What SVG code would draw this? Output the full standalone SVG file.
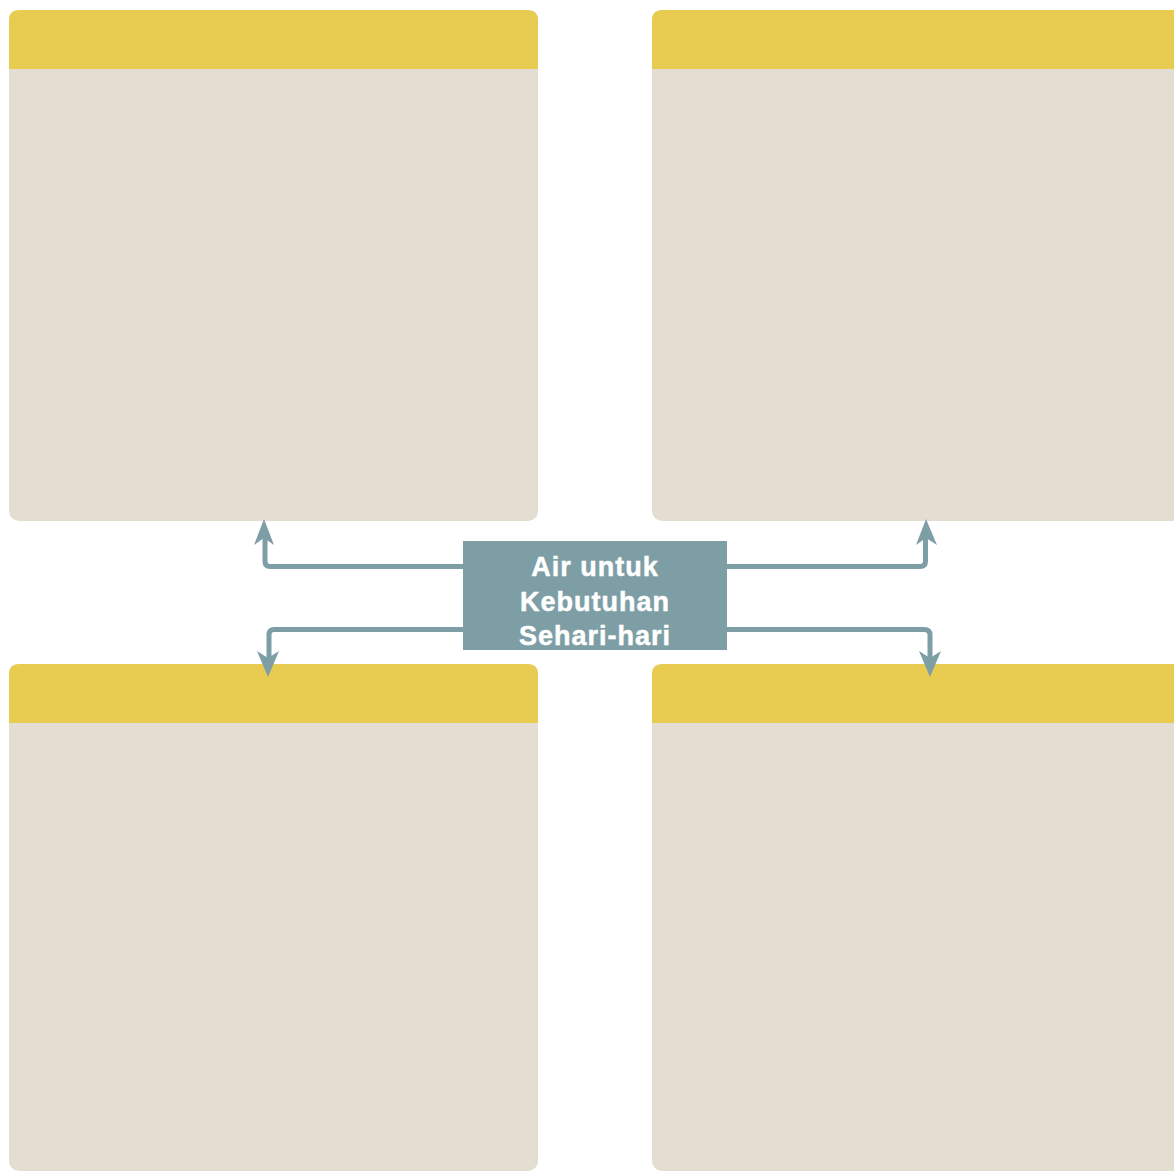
<svg xmlns="http://www.w3.org/2000/svg" width="1174" height="1171" viewBox="0 0 1174 1171">
<defs>
<style>
.body{fill:#E3DDD2}
.head{fill:#E8CC52}
.conn{fill:none;stroke:#7E9EA6;stroke-width:5;stroke-linejoin:round;stroke-linecap:butt}
.tip{fill:#7E9EA6}
.lbl{font-family:"Liberation Sans",Arial,Helvetica,sans-serif;font-weight:bold;font-size:27px;letter-spacing:1px;fill:#FFFFFF;stroke:#FFFFFF;stroke-width:0.5;text-anchor:middle}
</style>
</defs>
<rect width="1174" height="1171" fill="#FFFFFF"/>
<g id="box-tl">
<rect class="body" x="9" y="10" width="529" height="511" rx="10"/>
<path class="head" d="M9,69 V20 Q9,10 19,10 H528 Q538,10 538,20 V69 Z"/>
</g>
<g id="box-tr">
<rect class="body" x="652" y="10" width="532" height="511" rx="10"/>
<path class="head" d="M652,69 V20 Q652,10 662,10 H1174 Q1184,10 1184,20 V69 Z"/>
</g>
<g id="box-bl">
<rect class="body" x="9" y="664" width="529" height="507" rx="10"/>
<path class="head" d="M9,723 V674 Q9,664 19,664 H528 Q538,664 538,674 V723 Z"/>
</g>
<g id="box-br">
<rect class="body" x="652" y="664" width="532" height="507" rx="10"/>
<path class="head" d="M652,723 V674 Q652,664 662,664 H1174 Q1184,664 1184,674 V723 Z"/>
</g>
<g id="connectors">
<path class="conn" d="M463,566.5 H270 Q265,566.5 265,561 V536"/>
<polygon class="tip" points="264,519 274,545 264,538 254,545"/>
<path class="conn" d="M727,566.5 H920 Q925.5,566.5 925.5,561 V536"/>
<polygon class="tip" points="926,519 937,545 926,538 916,545"/>
<path class="conn" d="M463,629.5 H274 Q269,629.5 269,635 V660"/>
<polygon class="tip" points="268,677 279,651 268,658 257,651"/>
<path class="conn" d="M727,629.5 H924 Q930,629.5 930,635 V660"/>
<polygon class="tip" points="930,677 941,651 930,658 919,651"/>
</g>
<g id="center">
<rect x="463" y="541" width="264" height="109" fill="#7E9EA6"/>
<text class="lbl" x="595" y="576">Air untuk</text>
<text class="lbl" x="595" y="611">Kebutuhan</text>
<text class="lbl" x="595" y="645">Sehari-hari</text>
</g>
</svg>
